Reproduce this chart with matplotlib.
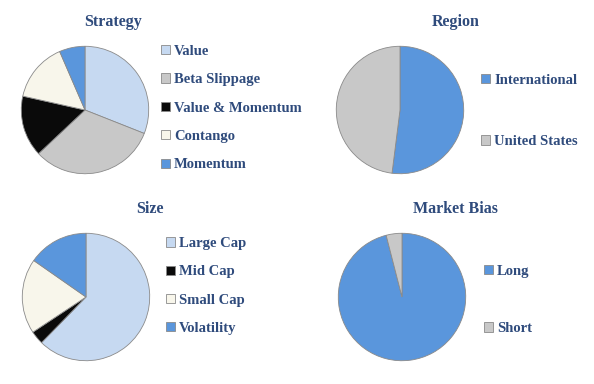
import matplotlib.pyplot as plt

# data (percent)
strategy_labels = ["Value", "Beta Slippage", "Value & Momentum", "Contango", "Momentum"]
strategy_values = [31, 32, 15.5, 15, 6.5]

region_labels = ["International", "United States"]
region_values = [52, 48]

size_labels = ["Large Cap", "Mid Cap", "Small Cap", "Volatility"]
size_values = [62.3, 3.4, 19, 15.3]

bias_labels = ["Long", "Short"]
bias_values = [96, 4]

LIGHT_BLUE = "#C6D9F1"
GRAY = "#C8C8C8"
BLACK = "#0A0A0A"
CREAM = "#F8F6EB"
BLUE = "#5A96DC"
TEXT = "#2F4B7C"

W, H = 594, 384

plt.rcParams['font.family'] = ['Liberation Serif', 'DejaVu Serif']

fig = plt.figure(figsize=(W / 100, H / 100), dpi=100)


def px_axes(cx, cy, r):
    # axes box around a pie, given in pixel coords (top-left origin)
    return fig.add_axes([(cx - r) / W, 1 - (cy + r) / H, 2 * r / W, 2 * r / H])


def draw_pie(cx, cy, r, values, labels, colors, title, title_xy, leg_x, leg_y, spacing):
    ax = px_axes(cx, cy, r)
    wedges, _ = ax.pie(values, colors=colors, startangle=90, counterclock=False,
                       radius=1.0,
                       wedgeprops=dict(edgecolor="#8A8A8A", linewidth=0.6))
    ax.set_xlim(-1.02, 1.02)
    ax.set_ylim(-1.02, 1.02)
    ax.set_aspect("equal")
    fig.text(title_xy[0] / W, 1 - title_xy[1] / H, title, ha="center", va="center",
             fontsize=11.5, fontweight="bold", color=TEXT)
    fig.legend(wedges, labels, loc="center left",
               bbox_to_anchor=(leg_x / W, 1 - leg_y / H),
               frameon=False, labelcolor=TEXT,
               prop=dict(weight="bold", size=10.5),
               handlelength=0.6, handleheight=0.6, handletextpad=0.3,
               labelspacing=spacing, borderpad=0, borderaxespad=0)
    return ax


draw_pie(85, 110, 65, strategy_values, strategy_labels,
         [LIGHT_BLUE, GRAY, BLACK, CREAM, BLUE],
         "Strategy", (113, 22), 161, 108, 1.06)

draw_pie(400, 110, 65, region_values, region_labels,
         [BLUE, GRAY],
         "Region", (456, 22), 481, 111, 3.3)

draw_pie(86, 297, 65, size_values, size_labels,
         [LIGHT_BLUE, BLACK, CREAM, BLUE],
         "Size", (150, 209), 166, 286, 1.05)

draw_pie(402, 297, 65, bias_values, bias_labels,
         [BLUE, GRAY],
         "Market Bias", (455, 209), 484, 300, 3.05)

fig.savefig("out.png", dpi=100)
